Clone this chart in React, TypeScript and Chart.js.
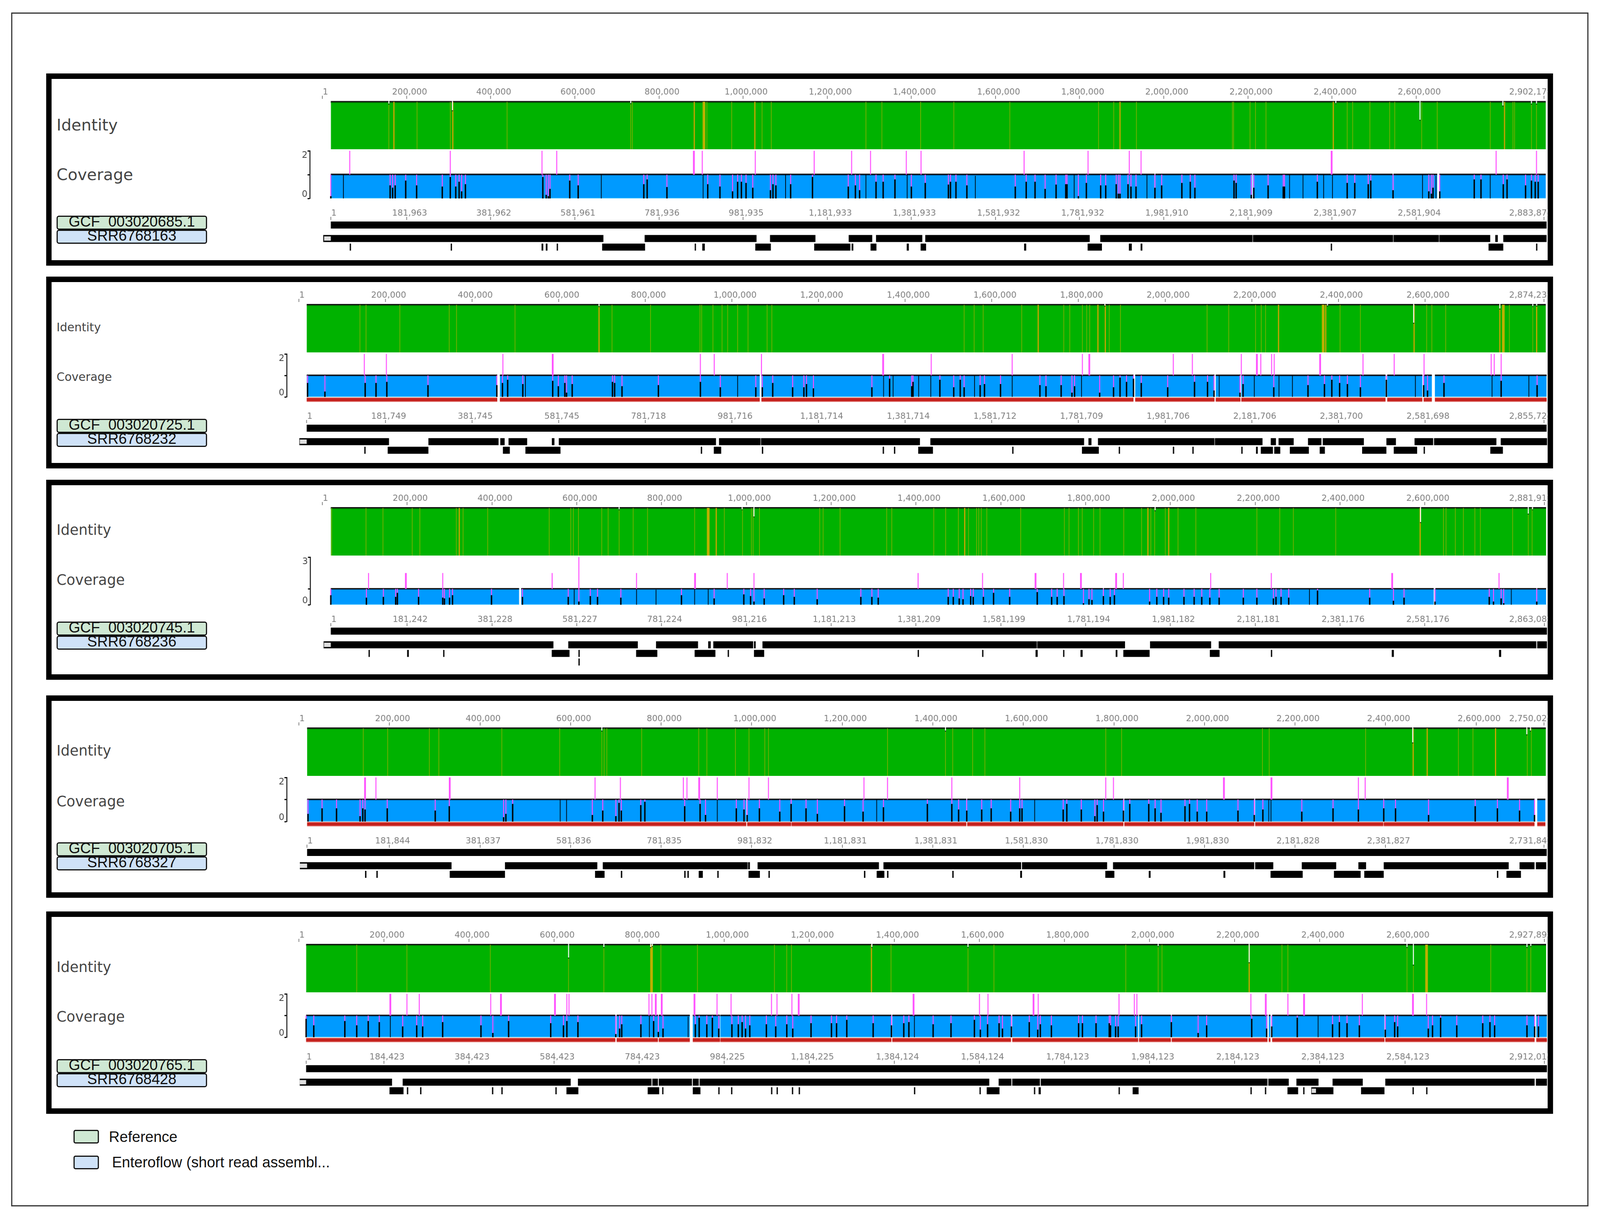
/** Five genome comparison panels (identity, coverage, contigs) drawn with Chart.js line datasets. */
import { useEffect, useRef } from "react";
import Chart from "chart.js/auto";

// All positions are in kilobases of the reference genome of each panel.
const p1Thin = [158, 225, 304, 439, 733, 737, 914, 973, 1045, 1067, 1292, 1330, 1422, 1501, 1634, 1845, 1881, 1935, 2163, 2166, 2205, 2218, 2243, 2436, 2449, 2490, 2537, 2549, 2613, 2650, 2776, 2830, 2834, 2874, 2886];
const p1Medium = [170, 310, 884, 1028, 1896, 2403, 2810];
const p1Wide = [907];
const p1Gaps = [[158, 4], [309, 18], [733, 3], [2409, 3], [2609, 38], [2806, 8], [2874, 4], [2886, 4]];
const p1Spikes = [65, 304, 522, 557, 903, 1029, 1169, 1258, 1303, 1388, 1423, 1668, 1820, 1918, 1946, 2790, 2886];
const p1ThickSpikes = [883, 2399];
const p1Dips = [[20, 0.1], [50, 1], [161, 0.55], [167, 0.45], [173, 0.55], [198, 0.75], [224, 0.55], [285, 0.5], [304, 0.9], [317, 0.5], [325, 0.7], [331, 0.3], [340, 0.6], [524, 0.9], [532, 0.15], [537, 0.1], [541, 0.4], [588, 0.75], [608, 0.55], [663, 1], [764, 0.6], [772, 0.8], [819, 0.48], [905, 1], [916, 0.6], [945, 0.5], [975, 0.3], [987, 0.7], [996, 0.7], [1007, 0.65], [1023, 0.45], [1065, 0.35], [1071, 0.6], [1078, 0.55], [1101, 1], [1113, 0.6], [1165, 0.9], [1250, 0.5], [1267, 0.55], [1277, 0.35], [1292, 1], [1316, 0.7], [1333, 0.7], [1361, 0.8], [1390, 1], [1400, 0.5], [1433, 0.65], [1488, 0.58], [1493, 0.7], [1506, 0.7], [1532, 0.55], [1552, 0.95], [1647, 0.5], [1673, 0.7], [1694, 0.7], [1718, 0.4], [1744, 0.58], [1767, 0.6], [1770, 0.6], [1787, 1], [1797, 0.1], [1816, 0.65], [1850, 0.55], [1862, 0.55], [1887, 0.6], [1892, 0.2], [1896, 0.2], [1915, 0.6], [1922, 0.5], [1934, 0.5], [1960, 1], [1979, 0.45], [1995, 0.55], [2043, 0.65], [2063, 0.7], [2074, 0.45], [2167, 0.75], [2172, 0.65], [2208, 0.15], [2214, 0.45], [2248, 0.55], [2284, 0.5], [2287, 0.5], [2299, 1], [2331, 1], [2365, 0.7], [2380, 1], [2401, 1], [2436, 0.65], [2454, 0.65], [2486, 0.6], [2492, 0.75], [2545, 0.35], [2615, 1], [2630, 0.3], [2636, 0.2], [2640, 0.45], [2647, 0.95], [2656, 0.3], [2738, 0.8], [2754, 0.8], [2776, 1], [2807, 0.6], [2816, 0.8], [2860, 0.55], [2874, 0.75], [2883, 0.7], [2890, 0.7]];
const p1Segments = [[20, 1978], [1980, 2210], [2212, 2544], [2546, 2650], [2655, 2908]];
const p1RowOne = [[2, 668], [766, 1032], [1064, 1172], [1251, 1307], [1316, 1426], [1433, 1824], [1849, 2211], [2212, 2545], [2546, 2654], [2655, 2776], [2788, 2794], [2807, 2910]];
const p1RowTwo = [[65, 68], [305, 308], [521, 525], [531, 535], [557, 560], [665, 767], [885, 888], [903, 909], [1029, 1066], [1169, 1255], [1258, 1262], [1303, 1317], [1389, 1394], [1422, 1435], [1668, 1673], [1819, 1853], [1917, 1924], [1945, 1949], [2397, 2400], [2772, 2807], [2885, 2888]];
const p1TopLabels = ["1", "200,000", "400,000", "600,000", "800,000", "1,000,000", "1,200,000", "1,400,000", "1,600,000", "1,800,000", "2,000,000", "2,200,000", "2,400,000", "2,600,000", "2,902,174"];
const p1ContigLabels = ["1", "181,963", "381,962", "581,961", "781,936", "981,935", "1,181,933", "1,381,933", "1,581,932", "1,781,932", "1,981,910", "2,181,909", "2,381,907", "2,581,904", "2,883,875"];

const p2Thin = [141, 155, 233, 347, 364, 499, 723, 812, 926, 930, 956, 977, 990, 1013, 1037, 1081, 1092, 1536, 1559, 1580, 1669, 1766, 1780, 1809, 1819, 1826, 1871, 1897, 2097, 2147, 2209, 2222, 2232, 2404, 2451, 2604, 2616, 2648, 2795, 2849];
const p2Medium = [693, 1707, 1845, 1862, 2262, 2371, 2575, 2773, 2858];
const p2Wide = [2365, 2781];
const p2Gaps = [[693, 3], [1861, 2], [2375, 2], [2574, 38], [2773, 8], [2849, 3], [2858, 2]];
const p2Spikes = [151, 202, 471, 927, 959, 1068, 1460, 1647, 1809, 2019, 2063, 2176, 2221, 2246, 2252, 2457, 2529, 2598, 2753, 2760, 2776];
const p2ThickSpikes = [586, 1349, 1825, 2212, 2358];
const p2Dips = [[20, 0.65], [60, 0.25], [153, 0.65], [178, 0.65], [203, 0.7], [298, 0.55], [457, 0.55], [470, 0.65], [482, 0.8], [517, 0.6], [523, 1], [586, 0.75], [599, 0.5], [614, 0.65], [618, 0.2], [631, 0.6], [724, 0.7], [729, 0.65], [746, 0.5], [830, 0.55], [927, 0.7], [973, 0.45], [1013, 1], [1055, 0.45], [1070, 0.45], [1094, 0.65], [1140, 0.45], [1166, 0.45], [1172, 0.6], [1188, 0.4], [1323, 0.45], [1350, 1], [1364, 0.85], [1372, 1], [1415, 0.5], [1418, 0.7], [1431, 1], [1459, 1], [1480, 0.8], [1512, 0.45], [1527, 0.8], [1536, 0.45], [1560, 1], [1573, 0.55], [1583, 0.6], [1620, 0.6], [1647, 1], [1711, 0.55], [1725, 0.5], [1760, 0.55], [1785, 0.2], [1791, 0.5], [1807, 1], [1849, 0.2], [1881, 0.45], [1896, 0.9], [1911, 0.7], [1927, 0.85], [1945, 0.65], [2006, 0.45], [2068, 0.7], [2098, 0.7], [2113, 0.3], [2125, 1], [2173, 0.2], [2180, 0.6], [2206, 1], [2251, 0.45], [2263, 1], [2294, 1], [2330, 0.55], [2368, 0.6], [2385, 0.8], [2403, 0.65], [2421, 0.6], [2451, 0.45], [2511, 0.8], [2578, 1], [2597, 0.55], [2606, 0.3], [2644, 0.65], [2755, 1], [2776, 0.75], [2840, 1], [2859, 0.55]];
const p2Segments = [[18, 458], [464, 1064], [1068, 1927], [1931, 2114], [2117, 2174], [2176, 2509], [2513, 2594], [2597, 2616], [2623, 2881]];
const p2RowOne = [[1, 208], [299, 461], [465, 475], [484, 527], [584, 590], [600, 963], [970, 1066], [1067, 1434], [1458, 1813], [1823, 1830], [1845, 2114], [2115, 2225], [2244, 2256], [2262, 2297], [2330, 2361], [2364, 2459], [2511, 2533], [2576, 2619], [2621, 2765], [2775, 2882]];
const p2RowTwo = [[151, 154], [205, 299], [471, 487], [523, 604], [928, 931], [958, 975], [1069, 1072], [1348, 1351], [1374, 1377], [1430, 1464], [1647, 1650], [1808, 1847], [1893, 1896], [2018, 2021], [2063, 2066], [2176, 2179], [2210, 2214], [2221, 2249], [2252, 2266], [2288, 2332], [2357, 2369], [2455, 2511], [2528, 2582], [2597, 2600], [2751, 2780]];
const p2TopLabels = ["1", "200,000", "400,000", "600,000", "800,000", "1,000,000", "1,200,000", "1,400,000", "1,600,000", "1,800,000", "2,000,000", "2,200,000", "2,400,000", "2,600,000", "2,874,234"];
const p2ContigLabels = ["1", "181,749", "381,745", "581,745", "781,718", "981,716", "1,181,714", "1,381,714", "1,581,712", "1,781,709", "1,981,706", "2,181,706", "2,381,700", "2,581,698", "2,855,725"];

const p3Thin = [22, 103, 143, 212, 230, 316, 332, 390, 535, 586, 592, 604, 659, 674, 700, 733, 767, 878, 948, 991, 1012, 1016, 1031, 1173, 1181, 1221, 1331, 1343, 1442, 1470, 1500, 1524, 1543, 1548, 1554, 1567, 1647, 1750, 1761, 1783, 1792, 1819, 1834, 1890, 1932, 1954, 1963, 1988, 2018, 2060, 2204, 2258, 2290, 2390, 2644, 2650, 2672, 2691, 2718, 2731, 2807, 2844, 2853];
const p3Medium = [323, 929, 1515, 1947, 1996, 2589];
const p3Wide = [910];
const p3Gaps = [[700, 3], [990, 3], [1018, 18], [1964, 5], [2590, 30], [2844, 12], [2854, 3]];
const p3Spikes = [[109, 2], [284, 2], [542, 2], [605, 3], [741, 2], [955, 2], [1018, 2], [1405, 2], [1557, 2], [1748, 2], [1889, 2], [2095, 2], [2238, 2], [2775, 2]];
const p3ThickSpikes = [[197, 2], [879, 2], [1682, 2], [1789, 2], [1872, 2], [2523, 2]];
const p3Dips = [[20, 0.6], [104, 0.45], [144, 0.5], [173, 0.5], [177, 0.75], [227, 0.5], [284, 0.45], [288, 0.4], [300, 0.45], [307, 0.6], [399, 0.6], [472, 0.5], [580, 0.5], [594, 1], [605, 0.2], [632, 0.55], [649, 0.5], [704, 0.45], [741, 1], [787, 0.95], [847, 0.6], [878, 1], [910, 1], [924, 0.4], [994, 0.65], [1010, 0.55], [1018, 0.2], [1042, 0.4], [1088, 0.6], [1113, 0.5], [1167, 0.35], [1270, 0.5], [1296, 0.5], [1311, 0.45], [1476, 0.5], [1488, 0.5], [1502, 0.4], [1511, 0.35], [1529, 0.55], [1535, 0.5], [1559, 0.5], [1583, 0.75], [1621, 0.5], [1686, 0.8], [1720, 0.5], [1733, 0.5], [1749, 0.55], [1795, 0.1], [1808, 0.35], [1815, 0.3], [1842, 0.55], [1858, 0.5], [1868, 0.6], [1951, 0.2], [1968, 0.5], [1984, 0.5], [1996, 0.45], [2032, 0.5], [2056, 0.5], [2074, 0.5], [2093, 0.45], [2115, 0.45], [2172, 0.45], [2204, 0.45], [2243, 0.4], [2249, 0.5], [2261, 0.5], [2279, 0.45], [2328, 1], [2347, 0.9], [2470, 0.45], [2526, 0.25], [2551, 0.45], [2624, 0.2], [2752, 0.5], [2762, 0.2], [2780, 0.4], [2786, 0.1], [2804, 1], [2864, 0.2]];
const p3Segments = [[20, 464], [469, 1841], [1843, 2621], [2625, 2863], [2865, 2886]];
const p3RowOne = [[3, 545], [580, 744], [787, 886], [910, 916], [922, 1016], [1018, 1022], [1038, 1685], [1686, 1893], [1952, 2096], [2114, 2863], [2865, 2888]];
const p3RowTwo = [[109, 112], [200, 204], [285, 288], [541, 583], [604, 607], [740, 790], [878, 927], [956, 959], [1018, 1042], [1404, 1407], [1556, 1559], [1682, 1687], [1747, 1750], [1788, 1793], [1871, 1875], [1889, 1951], [2093, 2116], [2237, 2240], [2522, 2527], [2775, 2780]];
const p3RowThree = [[604, 607]];
const p3TopLabels = ["1", "200,000", "400,000", "600,000", "800,000", "1,000,000", "1,200,000", "1,400,000", "1,600,000", "1,800,000", "2,000,000", "2,200,000", "2,400,000", "2,600,000", "2,881,912"];
const p3ContigLabels = ["1", "181,242", "381,228", "581,227", "781,224", "981,216", "1,181,213", "1,381,209", "1,581,199", "1,781,194", "1,981,182", "2,181,181", "2,381,176", "2,581,176", "2,863,080"];

const p4Thin = [142, 196, 288, 309, 448, 576, 669, 674, 680, 757, 883, 901, 964, 994, 1029, 1037, 1300, 1428, 1444, 1488, 1515, 1782, 1817, 2128, 2143, 2356, 2561, 2593, 2713, 2722];
const p4Medium = [2461, 2492, 2643];
const p4Wide: number[] = [];
const p4Gaps = [[669, 5], [1428, 5], [2460, 30], [2712, 13], [2720, 5]];
const p4Spikes = [170, 654, 710, 849, 857, 924, 994, 1037, 1248, 1300, 1442, 1592, 1782, 1799, 2340, 2355];
const p4ThickSpikes = [146, 333, 884, 2043, 2148, 2670];
const p4Dips = [[20, 0.35], [51, 0.6], [83, 0.6], [135, 0.25], [141, 0.6], [146, 0.55], [195, 0.6], [301, 0.5], [332, 0.7], [452, 0.2], [457, 0.35], [472, 0.8], [577, 1], [591, 1], [648, 0.3], [671, 0.5], [700, 0.25], [707, 0.85], [712, 0.5], [755, 0.75], [764, 0.9], [852, 0.7], [886, 0.8], [898, 0.3], [924, 1], [966, 0.6], [983, 0.55], [990, 0.3], [1017, 0.6], [1062, 0.45], [1087, 0.8], [1120, 0.6], [1145, 0.35], [1205, 0.7], [1246, 0.45], [1276, 1], [1291, 0.65], [1388, 0.8], [1442, 0.8], [1457, 0.55], [1475, 0.5], [1508, 0.55], [1529, 0.6], [1572, 0.45], [1592, 0.6], [1597, 0.6], [1625, 1], [1688, 0.55], [1696, 0.8], [1728, 0.55], [1758, 0.25], [1763, 0.75], [1777, 0.45], [1821, 0.5], [1835, 0.8], [1877, 0.8], [1891, 0.6], [1904, 0.4], [1957, 0.7], [1967, 0.8], [1984, 0.45], [2005, 0.45], [2074, 0.5], [2110, 0.3], [2129, 0.55], [2142, 1], [2147, 1], [2215, 0.45], [2284, 0.6], [2340, 0.55], [2396, 0.6], [2422, 0.6], [2495, 0.3], [2598, 0.7], [2647, 0.6], [2696, 0.5], [2729, 0.3]];
const p4Segments = [[18, 988], [990, 1087], [1088, 1474], [1476, 1821], [1823, 2110], [2112, 2395], [2396, 2729], [2735, 2753]];
const p4RowOne = [[2, 337], [455, 659], [671, 991], [992, 996], [1013, 1281], [1291, 1595], [1597, 1785], [1798, 2110], [2112, 2152], [2215, 2291], [2340, 2357], [2396, 2672], [2696, 2729], [2732, 2755]];
const p4RowTwo = [[146, 149], [171, 174], [333, 455], [654, 675], [711, 714], [851, 854], [858, 861], [883, 892], [924, 927], [993, 1018], [1037, 1040], [1248, 1251], [1276, 1293], [1299, 1302], [1443, 1446], [1593, 1597], [1781, 1801], [1877, 1881], [2042, 2046], [2146, 2217], [2286, 2345], [2353, 2396], [2646, 2649], [2667, 2699]];
const p4TopLabels = ["1", "200,000", "400,000", "600,000", "800,000", "1,000,000", "1,200,000", "1,400,000", "1,600,000", "1,800,000", "2,000,000", "2,200,000", "2,400,000", "2,600,000", "2,750,025"];
const p4ContigLabels = ["1", "181,844", "381,837", "581,836", "781,835", "981,832", "1,181,831", "1,381,831", "1,581,830", "1,781,830", "1,981,830", "2,181,828", "2,381,827", "", "2,731,842"];

const p5Thin = [136, 254, 450, 634, 717, 851, 937, 1118, 1147, 1158, 1392, 1573, 1634, 1944, 2020, 2029, 2311, 2325, 2605, 2620, 2802, 2887, 2896];
const p5Medium = [1346, 2234];
const p5Wide = [829, 2651];
const p5Gaps = [[634, 27], [717, 5], [827, 5], [831, 3], [1347, 5], [1573, 5], [2020, 3], [2234, 37], [2605, 5], [2620, 42], [2887, 5], [2896, 3]];
const p5Spikes = [254, 283, 451, 630, 635, 823, 830, 983, 1016, 1111, 1124, 1159, 1600, 1620, 1738, 1928, 1964, 1970, 2238, 2325, 2500, 2651];
const p5ThickSpikes = [215, 475, 602, 839, 853, 930, 1175, 1445, 1727, 2273, 2363, 2619];
const p5Dips = [[17, 0.85], [35, 0.55], [108, 0.75], [136, 0.55], [163, 0.75], [189, 0.7], [215, 1], [244, 0.5], [277, 0.55], [291, 0.5], [338, 0.7], [428, 0.55], [456, 0.2], [493, 0.75], [592, 0.65], [622, 0.55], [630, 0.75], [656, 0.7], [745, 0.15], [754, 0.4], [759, 0.6], [804, 0.6], [824, 1], [834, 0.75], [845, 0.25], [856, 0.4], [915, 0.95], [932, 0.6], [941, 0.9], [959, 0.6], [972, 0.9], [987, 0.4], [1018, 0.6], [1033, 0.6], [1042, 0.7], [1050, 0.4], [1060, 0.55], [1099, 0.6], [1121, 0.5], [1147, 0.6], [1161, 0.4], [1204, 0.65], [1252, 0.65], [1264, 0.65], [1288, 0.8], [1350, 0.65], [1393, 0.55], [1422, 0.65], [1434, 0.7], [1447, 1], [1491, 0.6], [1533, 0.65], [1588, 0.8], [1602, 0.35], [1619, 0.6], [1646, 0.65], [1654, 0.4], [1675, 0.5], [1717, 0.7], [1737, 0.35], [1743, 0.6], [1769, 0.55], [1833, 0.65], [1842, 0.65], [1874, 0.65], [1905, 0.65], [1908, 0.55], [1920, 0.5], [1926, 0.5], [1967, 0.5], [1981, 0.6], [2051, 0.7], [2114, 0.2], [2134, 0.55], [2240, 0.85], [2275, 0.4], [2287, 0.5], [2347, 0.9], [2396, 1], [2430, 0.6], [2446, 0.7], [2464, 0.65], [2493, 0.55], [2554, 0.35], [2576, 0.7], [2583, 0.5], [2655, 0.4], [2665, 0.55], [2684, 0.9], [2722, 0.55], [2783, 0.65], [2800, 0.7], [2811, 0.55], [2887, 0.55], [2905, 0.5], [2914, 0.5]];
const p5Segments = [[17, 744], [747, 844], [846, 919], [926, 990], [991, 1393], [1395, 1674], [1677, 1973], [1975, 2050], [2052, 2277], [2280, 2284], [2288, 2552], [2554, 2905], [2909, 2934]];
const p5RowOne = [[2, 219], [244, 639], [656, 829], [831, 844], [846, 924], [926, 940], [942, 1623], [1645, 1675], [1677, 1742], [1744, 2277], [2279, 2327], [2345, 2397], [2430, 2501], [2554, 2905], [2908, 2934]];
const p5RowTwo = [[213, 246], [254, 257], [285, 288], [454, 457], [476, 479], [603, 606], [629, 657], [820, 847], [854, 857], [926, 944], [986, 989], [1016, 1019], [1110, 1113], [1123, 1126], [1159, 1162], [1175, 1178], [1446, 1449], [1600, 1603], [1617, 1647], [1728, 1731], [1739, 1744], [1927, 1930], [1960, 1974], [2237, 2240], [2271, 2274], [2324, 2349], [2361, 2364], [2380, 2432], [2497, 2552], [2618, 2621], [2650, 2653]];
const p5TopLabels = ["1", "200,000", "400,000", "600,000", "800,000", "1,000,000", "1,200,000", "1,400,000", "1,600,000", "1,800,000", "2,000,000", "2,200,000", "2,400,000", "2,600,000", "2,927,896"];
const p5ContigLabels = ["1", "184,423", "384,423", "584,423", "784,423", "984,225", "1,184,225", "1,384,124", "1,584,124", "1,784,123", "1,984,123", "2,184,123", "2,384,123", "2,584,123", "2,912,015"];

const tickPositions = [200, 400, 600, 800, 1000, 1200, 1400, 1600, 1800, 2000, 2200, 2400, 2600];
const legendLabels = ["Reference", "Enteroflow (short read assembl..."];

const FONT = "'DejaVu Sans'";
const LABEL_FONT = "'Liberation Sans'";
const PAGE_WIDTH = 4157;
const INNER_RIGHT = 4022;
const LANE_GAP = 22;

const panels = [
  {
    frame: [188, 680], x1: 837.6, slope: 1.093, axisX: 805, chartTop: 253, idTop: 260.5, idBottom: 382, covTop: 386, cov0: 508, bottom: 512,
    contigTop: 563, refY: 576, rowY: 610.5, covMax: 2, hasRed: false, textSize: 41.5, idY: 320, covY: 447, badgeY: 552, start: 20, end: 2904, lastTick: 2904,
    thin: p1Thin, medium: p1Medium, wide: p1Wide, gaps: p1Gaps, spikes: p1Spikes.map((x) => [x, 2]), thick: p1ThickSpikes.map((x) => [x, 2]), dips: p1Dips, segments: p1Segments,
    rows: [p1RowOne, p1RowTwo], starts: [[4, 20]], topLabels: p1TopLabels, contigLabels: p1ContigLabels, names: ["GCF_003020685.1", "SRR6768163"],
  },
  {
    frame: [708, 1199], x1: 776.6, slope: 1.1252, axisX: 745, chartTop: 773, idTop: 780, idBottom: 902, covTop: 906, cov0: 1016, bottom: 1030,
    contigTop: 1083, refY: 1096, rowY: 1130.5, covMax: 2, hasRed: true, textSize: 30, idY: 838, covY: 965, badgeY: 1072, start: 18, end: 2875, lastTick: 2875,
    thin: p2Thin, medium: p2Medium, wide: p2Wide, gaps: p2Gaps, spikes: p2Spikes.map((x) => [x, 2]), thick: p2ThickSpikes.map((x) => [x, 2]), dips: p2Dips, segments: p2Segments,
    rows: [p2RowOne, p2RowTwo], starts: [[2, 18]], topLabels: p2TopLabels, contigLabels: p2ContigLabels, names: ["GCF_003020725.1", "SRR6768232"],
  },
  {
    frame: [1228, 1740], x1: 837.4, slope: 1.1017, axisX: 806, chartTop: 1293, idTop: 1300, idBottom: 1422, covTop: 1426, cov0: 1548, bottom: 1552,
    contigTop: 1603, refY: 1615.5, rowY: 1650.5, covMax: 3, hasRed: false, textSize: 37, idY: 1357, covY: 1485, badgeY: 1591, start: 20, end: 2882, lastTick: 2882,
    thin: p3Thin, medium: p3Medium, wide: p3Wide, gaps: p3Gaps, spikes: p3Spikes, thick: p3ThickSpikes, dips: p3Dips, segments: p3Segments,
    rows: [p3RowOne, p3RowTwo, p3RowThree], starts: [[4, 20]], topLabels: p3TopLabels, contigLabels: p3ContigLabels, names: ["GCF_003020745.1", "SRR6768236"],
  },
  {
    frame: [1780, 2298], x1: 776.7, slope: 1.1763, axisX: 745, chartTop: 1857, idTop: 1864, idBottom: 1986, covTop: 1990, cov0: 2103, bottom: 2116,
    contigTop: 2170, refY: 2182, rowY: 2216, covMax: 2, hasRed: true, textSize: 37, idY: 1922, covY: 2052, badgeY: 2156, start: 18, end: 2750, lastTick: 2750,
    thin: p4Thin, medium: p4Medium, wide: p4Wide, gaps: p4Gaps, spikes: p4Spikes.map((x) => [x, 2]), thick: p4ThickSpikes.map((x) => [x, 2]), dips: p4Dips, segments: p4Segments,
    rows: [p4RowOne, p4RowTwo], starts: [[2, 18]], topLabels: p4TopLabels, contigLabels: p4ContigLabels, names: ["GCF_003020705.1", "SRR6768327"],
  },
  {
    frame: [2333, 2851], x1: 776.5, slope: 1.1052, axisX: 745, chartTop: 2411, idTop: 2418, idBottom: 2540, covTop: 2544, cov0: 2655, bottom: 2669,
    contigTop: 2723, refY: 2735.5, rowY: 2770, covMax: 2, hasRed: true, textSize: 37, idY: 2476, covY: 2603, badgeY: 2711, start: 17, end: 2928, lastTick: 2928,
    thin: p5Thin, medium: p5Medium, wide: p5Wide, gaps: p5Gaps, spikes: p5Spikes.map((x) => [x, 2]), thick: p5ThickSpikes.map((x) => [x, 2]), dips: p5Dips, segments: p5Segments,
    rows: [p5RowOne, p5RowTwo], starts: [[2, 17], [2381, 2391]], topLabels: p5TopLabels, contigLabels: p5ContigLabels, names: ["GCF_003020765.1", "SRR6768428"],
  },
];

type Panel = (typeof panels)[number];
type Pt = { x: number; y: number | null };

/** Vertical strokes, one per position, split by empty points. */
function strokes(items: number[][]): Pt[] {
  return items.flatMap(([x, lo, hi]) => [{ x, y: lo }, { x, y: hi }, { x, y: null }]);
}

/** Horizontal spans on one y value, split by empty points. */
function spans(items: number[][], y: number): Pt[] {
  return items.flatMap(([a, b]) => [{ x: a, y }, { x: b, y }, { x: b, y: null }]);
}

/** A closed outline that fills down to zero for every segment. */
function blocks(items: number[][], top: number): Pt[] {
  return items.flatMap(([a, b]) => [{ x: a, y: 0 }, { x: a, y: top }, { x: b, y: top }, { x: b, y: 0 }]);
}

function line(data: Pt[], color: string, width: number, yAxisID: string, fill = false) {
  return {
    data,
    borderColor: color,
    backgroundColor: color,
    borderWidth: width,
    borderCapStyle: "butt",
    borderJoinStyle: "miter",
    pointRadius: 0,
    tension: 0,
    spanGaps: false,
    fill: fill ? "origin" : false,
    yAxisID,
  };
}

/** Later datasets paint over earlier ones. */
function stacked(datasets: any[]) {
  return datasets.map((dataset, index) => ({ ...dataset, order: datasets.length - index }));
}

function xScale(panel: Panel, labels: string[], firstTick: number) {
  const { x1, slope, axisX, lastTick } = panel;
  // The last label sits left of its tick, so it gets a tick of its own without a mark.
  const values = [firstTick, ...tickPositions, lastTick, (3969 - x1) / slope];
  const lastMark = values.length - 2;
  const texts = [...labels.slice(0, labels.length - 1), "", labels[labels.length - 1]];
  return {
    type: "linear",
    position: "top",
    min: (axisX - x1) / slope,
    max: (INNER_RIGHT - x1) / slope,
    border: { display: false },
    grid: {
      drawOnChartArea: false,
      drawTicks: true,
      tickLength: 8,
      tickWidth: 1.5,
      tickColor: (ctx: any) => (ctx.index === lastMark || (ctx.index < lastMark && texts[ctx.index] !== "") ? "#555555" : "transparent"),
    },
    ticks: {
      autoSkip: false,
      maxRotation: 0,
      padding: -4,
      labelOffset: 8,
      color: "#7d7d7d",
      font: { family: FONT, size: 22 },
      callback: (_value: number, index: number) => texts[index],
    },
    afterBuildTicks: (axis: any) => {
      axis.ticks = values.map((value) => ({ value }));
    },
    afterFit: (axis: any) => {
      axis.height = 60;
      axis.paddingLeft = 0;
      axis.paddingRight = 0;
    },
  };
}

function tracksConfig(panel: Panel) {
  const { start, end, covMax, chartTop, idTop, idBottom, covTop, cov0, bottom } = panel;
  const idUnit = (idBottom - idTop) / 100;
  const covHeight = cov0 - covTop;
  const covTicks = [0, (covMax * 10) / covHeight, 1, covMax * (1 - 12 / covHeight), covMax];
  const covLabels = ["", "0", "", String(covMax), ""];
  const range = [[start, end + 4]];
  const fullDips = panel.dips.filter(([, value]) => value >= 0.95);
  const deepDips = panel.dips.filter(([, value]) => value < 0.95);

  const datasets = stacked([
    line(blocks(range, 100), "#00b200", 0, "identity", true),
    line(spans(range, 98.6), "#007c00", 3, "identity"),
    line(spans(range, 100.5), "#111111", 3, "identity"),
    line(strokes(panel.thin.map((x) => [x, 0, 100])), "#8db000", 1.6, "identity"),
    line(strokes(panel.medium.map((x) => [x, 0, 100])), "#d3a300", 3, "identity"),
    line(strokes(panel.wide.map((x) => [x, 0, 100])), "#bdb000", 7, "identity"),
    line(strokes(panel.gaps.map(([x, depth]) => [x, 100 - depth, 102])), "#ffffff", 2.5, "identity"),
    line(strokes(panel.gaps.map(([x, depth]) => [x, 100 - depth - 2, 100 - depth])), "#103010", 2.5, "identity"),

    line(blocks(panel.segments, 1), "#009aff", 0, "coverage", true),
    line(spans(panel.segments, 0.99), "#00437d", 3, "coverage"),
    line(spans(panel.segments, 1.015), "#111111", 3, "coverage"),
    line(spans(panel.segments, 0.01), "#4cc8ff", 2, "coverage"),
    line(strokes(deepDips.map(([x, value]) => [x, value, 1])), "#ff4dff", 2.5, "coverage"),
    line(strokes(deepDips.map(([x, value]) => [x, 0, value])), "#000000", 3.6, "coverage"),
    line(strokes(fullDips.map(([x, value]) => [x, 0, value])), "#000000", 1.8, "coverage"),
    line(strokes(panel.spikes.map(([x, value]) => [x, 1, value])), "#ff4dff", 2.5, "coverage"),
    line(strokes(panel.thick.map(([x, value]) => [x, 1, value])), "#ff4dff", 4.5, "coverage"),

    ...(panel.hasRed
      ? [
          line(spans(panel.segments, 0.5), "#e58a86", 12, "red"),
          line(spans(panel.segments, 0.5), "#c5211d", 8, "red"),
        ]
      : []),
  ]);

  return {
    type: "line",
    data: { datasets },
    options: {
      animation: false,
      responsive: false,
      devicePixelRatio: 1,
      events: [],
      layout: { autoPadding: false, padding: 0 },
      plugins: { legend: { display: false }, tooltip: { enabled: false }, title: { display: false } },
      scales: {
        x: xScale(panel, panel.topLabels, 0),
        identity: {
          axis: "y",
          position: "left",
          display: false,
          stack: "tracks",
          stackWeight: covTop - chartTop,
          weight: 3,
          min: -(covTop - idBottom) / idUnit,
          max: 100 + (idTop - chartTop) / idUnit,
        },
        coverage: {
          axis: "y",
          position: "left",
          stack: "tracks",
          stackWeight: covHeight,
          weight: 2,
          min: 0,
          max: covMax,
          border: { display: true, color: "#111111", width: 2.5 },
          grid: {
            drawOnChartArea: false,
            drawTicks: true,
            tickLength: 6,
            tickWidth: 3,
            tickColor: (ctx: any) => (ctx.index % 2 === 0 ? "#111111" : "transparent"),
          },
          ticks: {
            autoSkip: false,
            padding: 0,
            color: "#444444",
            font: { family: FONT, size: 23 },
            callback: (_value: number, index: number) => covLabels[index],
          },
          afterBuildTicks: (axis: any) => {
            axis.ticks = covTicks.map((value) => ({ value }));
          },
          afterFit: (axis: any) => {
            axis.width = 30;
            axis.paddingTop = 0;
            axis.paddingBottom = 0;
          },
        },
        red: {
          axis: "y",
          position: "left",
          display: false,
          stack: "tracks",
          stackWeight: bottom - cov0,
          weight: 1,
          min: 0,
          max: 1,
        },
      },
    },
  };
}

function contigsConfig(panel: Panel) {
  const { contigTop, rowY, refY, frame, start, end } = panel;
  const laneOf = (y: number) => 1 + (y - rowY) / LANE_GAP;
  const datasets = stacked([
    line(spans([[start, end + 6]], laneOf(refY)), "#000000", 18, "lanes"),
    ...panel.rows.map((row, index) => line(spans(row, index + 1), "#000000", 18, "lanes")),
    line(spans(panel.starts.slice(0, 1), 1), "#dedede", 11, "lanes"),
    line(spans(panel.starts.slice(1), 2), "#dedede", 11, "lanes"),
  ]);
  return {
    type: "line",
    data: { datasets },
    options: {
      animation: false,
      responsive: false,
      devicePixelRatio: 1,
      events: [],
      layout: { autoPadding: false, padding: 0 },
      plugins: { legend: { display: false }, tooltip: { enabled: false }, title: { display: false } },
      scales: {
        x: xScale(panel, panel.contigLabels, start),
        lanes: {
          axis: "y",
          position: "left",
          display: false,
          reverse: true,
          min: laneOf(contigTop),
          max: laneOf(frame[1] - 14),
        },
      },
    },
  };
}

function ChartCanvas({ left, top, width, height, config }: { left: number; top: number; width: number; height: number; config: any }) {
  const canvasRef = useRef<HTMLCanvasElement | null>(null);

  useEffect(() => {
    if (!canvasRef.current) {
      return;
    }
    const chart = new Chart(canvasRef.current, config);
    return () => chart.destroy();
  }, [config]);

  return <canvas ref={canvasRef} width={width} height={height} style={{ position: "absolute", left, top, width, height }} />;
}

function Badge({ top, text, fill }: { top: number; text: string; fill: string }) {
  return (
    <div
      style={{
        position: "absolute", left: 147, top, width: 391, height: 36, boxSizing: "border-box",
        background: fill, border: "3px solid #111", borderRadius: 6, color: "#111",
        font: `38.6px ${LABEL_FONT}`, lineHeight: "24px", textAlign: "center", whiteSpace: "nowrap",
      }}
    >
      {text}
    </div>
  );
}

function PanelView({ panel }: { panel: Panel }) {
  const { frame, axisX, chartTop, bottom, contigTop } = panel;
  const tracksLeft = axisX - 30;
  const label = (text: string, y: number) => (
    <div style={{ position: "absolute", left: 147, top: y - 40, height: 80, color: "#444", font: `${panel.textSize}px ${FONT}`, lineHeight: "80px", whiteSpace: "nowrap" }}>
      {text}
    </div>
  );

  return (
    <>
      <div style={{ position: "absolute", left: 120, top: frame[0], width: 3915, height: frame[1] - frame[0], boxSizing: "border-box", border: "14px solid #000" }} />
      <ChartCanvas left={tracksLeft} top={chartTop - 60} width={INNER_RIGHT - tracksLeft} height={bottom - chartTop + 60} config={tracksConfig(panel)} />
      <ChartCanvas left={axisX} top={contigTop - 60} width={INNER_RIGHT - axisX} height={frame[1] - 14 - contigTop + 60} config={contigsConfig(panel)} />
      {label("Identity", panel.idY)}
      {label("Coverage", panel.covY)}
      <Badge top={panel.badgeY} text={panel.names[0]} fill="#cfe8d3" />
      <Badge top={panel.badgeY + 36} text={panel.names[1]} fill="#cfe2f8" />
    </>
  );
}

export default function App(): JSX.Element {
  // The browser window stops at 4096 wide, so the whole page is narrowed to fit it.
  const fit = Math.min(1, window.innerWidth / PAGE_WIDTH);

  return (
    <div style={{ position: "absolute", left: 0, top: 0, width: PAGE_WIDTH, height: 3110, background: "#fff", transform: `scale(${fit}, 1)`, transformOrigin: "0 0" }}>
      <div style={{ position: "absolute", left: 29, top: 32, width: 4098, height: 3056, boxSizing: "border-box", border: "3px solid #333" }} />
      {panels.map((panel) => (
        <PanelView key={panel.names[0]} panel={panel} />
      ))}
      {legendLabels.map((text, index) => (
        <div key={text}>
          <div
            style={{
              position: "absolute", left: 191, top: 2892 + index * 66, width: 66, height: 35, boxSizing: "border-box",
              background: index === 0 ? "#cfe8d3" : "#cfe2f8", border: "3px solid #111", borderRadius: 5,
            }}
          />
          <div style={{ position: "absolute", left: index === 0 ? 283 : 291, top: 2885 + index * 65, height: 50, font: `38.6px ${LABEL_FONT}`, lineHeight: "50px", color: "#111", whiteSpace: "nowrap" }}>
            {text}
          </div>
        </div>
      ))}
    </div>
  );
}
